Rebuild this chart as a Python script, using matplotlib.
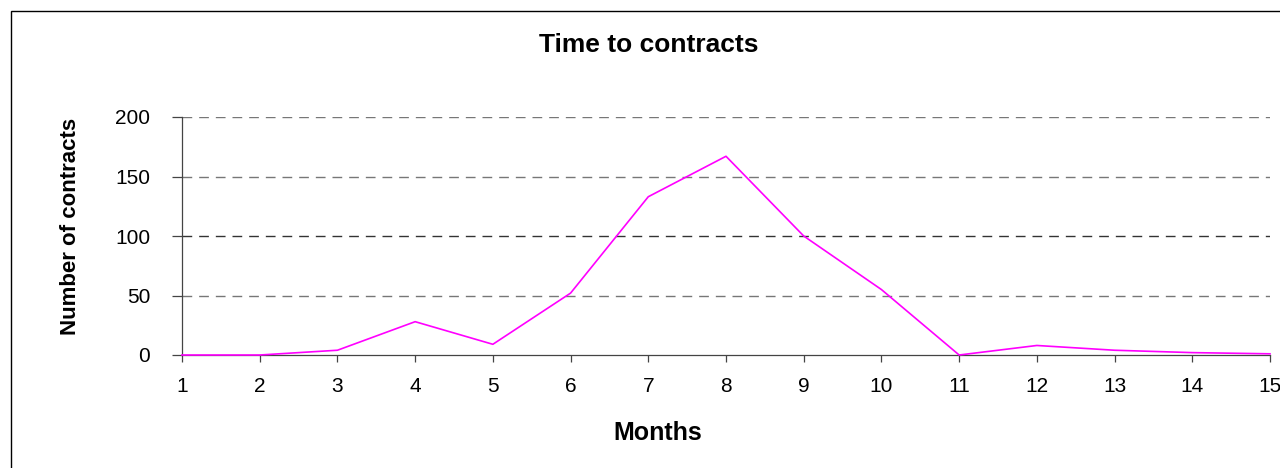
import matplotlib
matplotlib.use("Agg")
import matplotlib.pyplot as plt
from matplotlib.patches import Rectangle

months = [1, 2, 3, 4, 5, 6, 7, 8, 9, 10, 11, 12, 13, 14, 15]
contracts = [0, 0, 4, 28, 9, 52, 133, 167, 100, 55, 0, 8, 4, 2, 1]
y_ticks = [0, 50, 100, 150, 200]

plt.rcParams['font.family'] = ['Liberation Sans', 'DejaVu Sans']

W, H = 1280, 468
fig = plt.figure(figsize=(12.8, 4.68), dpi=100)
fig.patches.append(Rectangle((10.5 / W, -0.2), 2.0, 1.2 - 11 / H,
                             transform=fig.transFigure, fill=False,
                             edgecolor='black', linewidth=1.0))

ax = fig.add_axes([182 / W, 1 - 355 / H, (1270 - 182) / W, (355 - 117) / H])
ax.plot(months, contracts, color='#FF00FF', linewidth=1.2, clip_on=False, zorder=3)

ax.set_xlim(1, 15)
ax.set_ylim(0, 200)
ax.set_xticks(months)
ax.set_yticks(y_ticks)

for yv in y_ticks[1:]:
    ax.axhline(yv, color='#333333' if yv == 100 else '#777777', linewidth=1.0,
               linestyle=(0, (7, 5)), zorder=1)

for s in ['top', 'right']:
    ax.spines[s].set_visible(False)
for s in ['left', 'bottom']:
    ax.spines[s].set_color('#444444')
    ax.spines[s].set_linewidth(0.9)

ax.tick_params(axis='y', direction='out', length=7, width=0.9, color='#444444',
               labelsize=15, pad=16)
ax.tick_params(axis='x', direction='out', length=5, width=0.9, color='#444444',
               labelsize=15, pad=11)

fig.text(649 / W, 1 - 45 / H, 'Time to contracts', fontsize=19, fontweight='bold',
         ha='center', va='center')
fig.text(658 / W, 1 - 433 / H, 'Months', fontsize=18, fontweight='bold',
         ha='center', va='center')
fig.text(70 / W, 1 - 226 / H, 'Number of contracts', fontsize=16, fontweight='bold',
         ha='center', va='center', rotation=90)

fig.savefig('out.png', dpi=100)
